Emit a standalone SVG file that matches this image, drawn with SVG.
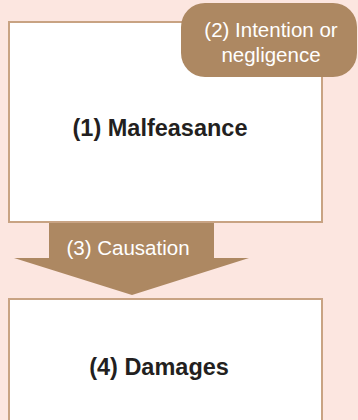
<svg xmlns="http://www.w3.org/2000/svg" width="358" height="420" viewBox="0 0 358 420">
<style>
.box{fill:#ffffff;stroke:#c8a383;stroke-width:2}
.brown{fill:#ad8862}
.lbl{font-family:"Liberation Sans",Arial,sans-serif;font-weight:bold;font-size:23.5px;fill:#231f20;text-anchor:middle}
.wt{font-family:"Liberation Sans",Arial,sans-serif;font-size:20.5px;fill:#ffffff;text-anchor:middle}
</style>
<rect x="0" y="0" width="358" height="420" fill="#fce6e0"/>
<g id="node-malfeasance">
<rect class="box" x="9" y="22" width="313" height="200"/>
<text class="lbl" x="160" y="136">(1) Malfeasance</text>
</g>
<g id="node-intention">
<rect class="brown" x="181" y="3" width="176" height="74" rx="24" ry="24"/>
<text class="wt" x="271" y="37">(2) Intention or</text>
<text class="wt" x="271" y="62">negligence</text>
</g>
<g id="connectors">
<polygon class="brown" points="49,223 214,223 214,258 249,258 132,295 14,258 49,258"/>
<text class="wt" x="128" y="255">(3) Causation</text>
</g>
<g id="node-damages">
<rect class="box" x="9" y="299" width="313" height="130"/>
<text class="lbl" x="159" y="375">(4) Damages</text>
</g>
</svg>
